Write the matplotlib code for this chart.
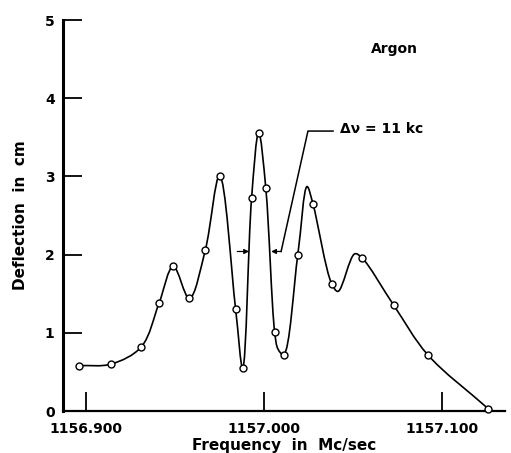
import matplotlib
matplotlib.use("Agg")
import matplotlib.pyplot as plt
from matplotlib.path import Path
from matplotlib.patches import PathPatch
import numpy as np

# measured points (open circles)
freq = [1156.896, 1156.914, 1156.931, 1156.941, 1156.949, 1156.958, 1156.967,
        1156.975, 1156.984, 1156.988, 1156.993, 1156.997, 1157.001, 1157.006,
        1157.011, 1157.019, 1157.0275, 1157.038, 1157.055, 1157.073, 1157.092,
        1157.126]
defl = [0.58, 0.60, 0.82, 1.38, 1.85, 1.44, 2.06,
        3.01, 1.31, 0.55, 2.72, 3.56, 2.85, 1.01,
        0.72, 2.00, 2.65, 1.63, 1.96, 1.35, 0.72,
        0.03]

# extra points where the drawn curve turns between circles
bend_freq = [1157.0079, 1157.0242, 1157.0416, 1157.051]
bend_defl = [0.79, 2.87, 1.53, 2.01]

xticks = [1156.900, 1157.000, 1157.100]
xtick_labels = ["1156.900", "1157.000", "1157.100"]
yticks = [0, 1, 2, 3, 4, 5]

plt.rcParams['font.family'] = ['DejaVu Sans']

fig = plt.figure(figsize=(5.11, 4.53), dpi=100)
ax = fig.add_axes([0.1233, 0.0927, 0.8647, 0.8631])
ax.set_xlim(1156.887, 1157.1354)
ax.set_ylim(0, 5)


# centripetal Catmull-Rom through the points, as cubic Beziers
def smooth_path(xs, ys, sx=1780.0, sy=78.0):
    order = np.argsort(xs)
    p = np.column_stack([np.asarray(xs)[order] * sx, np.asarray(ys)[order] * sy])
    x0 = p[:, 0].min()
    p[:, 0] -= x0
    p = np.vstack([2 * p[0] - p[1], p, 2 * p[-1] - p[-2]])
    t = np.zeros(len(p))
    for i in range(1, len(p)):
        t[i] = t[i - 1] + np.hypot(*(p[i] - p[i - 1])) ** 0.5
    verts = [p[1]]
    codes = [Path.MOVETO]
    for i in range(1, len(p) - 2):
        p0, p1, p2, p3 = p[i - 1], p[i], p[i + 1], p[i + 2]
        t0, t1, t2, t3 = t[i - 1], t[i], t[i + 1], t[i + 2]
        m1 = (p1 - p0) / (t1 - t0) - (p2 - p0) / (t2 - t0) + (p2 - p1) / (t2 - t1)
        m2 = (p2 - p1) / (t2 - t1) - (p3 - p1) / (t3 - t1) + (p3 - p2) / (t3 - t2)
        dt = t2 - t1
        verts += [p1 + m1 * dt / 3, p2 - m2 * dt / 3, p2]
        codes += [Path.CURVE4] * 3
    v = np.array(verts)
    v[:, 0] = (v[:, 0] + x0) / sx
    v[:, 1] = v[:, 1] / sy
    return Path(v, codes)


ax.add_patch(PathPatch(smooth_path(freq + bend_freq, defl + bend_defl),
                       facecolor='none', edgecolor='black', lw=1.2, zorder=2))

ax.plot(freq, defl, 'o', ms=5, mfc='white', mec='black', mew=1.0, zorder=3,
        clip_on=False)

# line width annotation
ax.annotate("", xy=(1156.9916, 2.04), xytext=(1156.985, 2.04),
            arrowprops=dict(arrowstyle='-|>', color='black', lw=0.9,
                            mutation_scale=7, shrinkA=0, shrinkB=0))
ax.annotate("", xy=(1157.0040, 2.04), xytext=(1157.0096, 2.04),
            arrowprops=dict(arrowstyle='-|>', color='black', lw=0.9,
                            mutation_scale=7, shrinkA=0, shrinkB=0))
ax.plot([1157.0096, 1157.0247, 1157.0388], [2.04, 3.58, 3.58],
        color='black', lw=1.1)
ax.text(1157.0425, 3.6, "Δν = 11 kc", fontsize=10, fontweight='bold',
        va='center', ha='left')
ax.text(1157.0736, 4.63, "Argon", fontsize=10, fontweight='bold',
        va='center', ha='center')

# axes styling
ax.spines['top'].set_visible(False)
ax.spines['right'].set_visible(False)
ax.spines['left'].set_linewidth(2.2)
ax.spines['bottom'].set_linewidth(1.6)
ax.set_xticks(xticks)
ax.set_xticklabels(xtick_labels)
ax.set_yticks(yticks)
ax.tick_params(axis='both', direction='in', length=14, width=1.3,
               labelsize=10)
ax.tick_params(axis='x', pad=8)
ax.tick_params(axis='y', pad=6)
for lab in ax.get_xticklabels() + ax.get_yticklabels():
    lab.set_fontweight('bold')

ax.set_xlabel("Frequency  in  Mc/sec", fontsize=11, fontweight='bold',
              labelpad=1)
ax.set_ylabel("Deflection  in  cm", fontsize=11, fontweight='bold',
              labelpad=12)

fig.savefig("out.png", dpi=100)
